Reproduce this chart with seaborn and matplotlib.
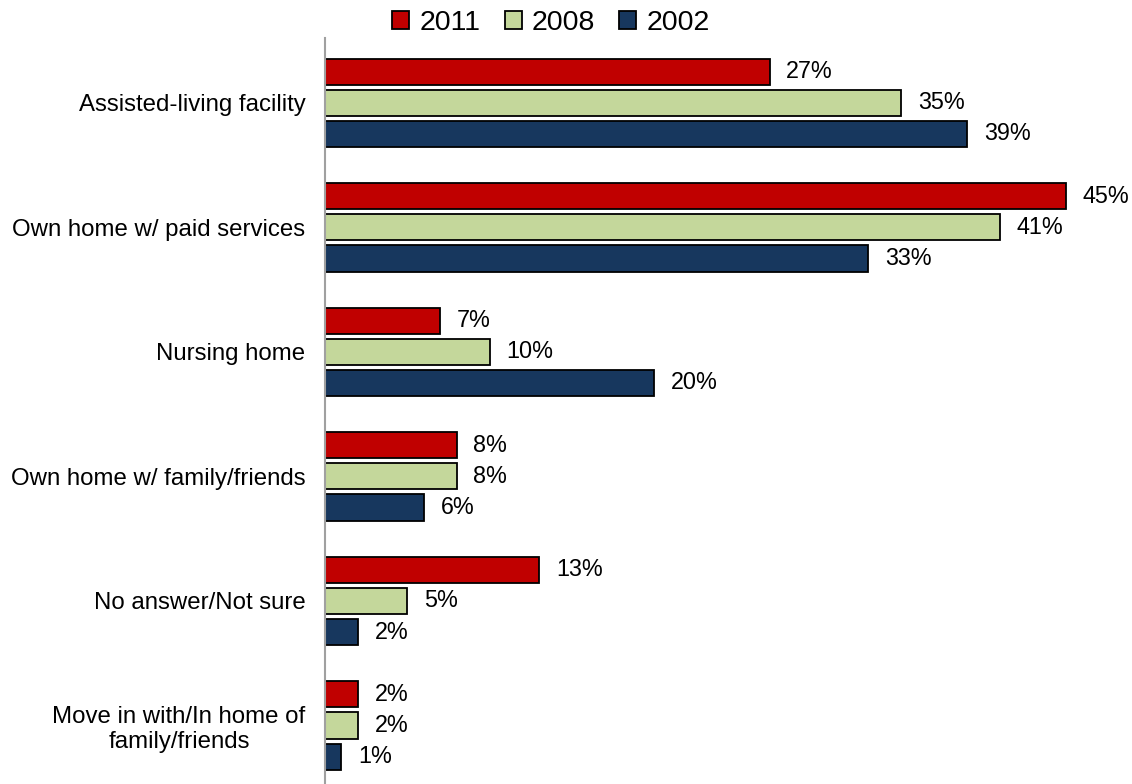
import matplotlib
matplotlib.use("Agg")
import matplotlib.pyplot as plt
import seaborn as sns
import pandas as pd

categories = [
    "Assisted-living facility",
    "Own home w/ paid services",
    "Nursing home",
    "Own home w/ family/friends",
    "No answer/Not sure",
    "Move in with/In home of\nfamily/friends",
]
years = ["2011", "2008", "2002"]
values_2011 = [27, 45, 7, 8, 13, 2]
values_2008 = [35, 41, 10, 8, 5, 2]
values_2002 = [39, 33, 20, 6, 2, 1]
colors = ["#C00000", "#C4D79B", "#17375E"]

rows = []
for year, vals in zip(years, [values_2011, values_2008, values_2002]):
    for cat, v in zip(categories, vals):
        rows.append({"category": cat, "year": year, "value": v})
df = pd.DataFrame(rows)

sns.set_theme(style="white")
plt.rcParams["font.family"] = ["Liberation Sans", "DejaVu Sans"]
plt.rcParams["text.color"] = "black"

fig = plt.figure(figsize=(11.32, 7.84), dpi=100)
ax = fig.add_axes([325 / 1132, 0.0, 1 - 325 / 1132, 1 - 38 / 784])

sns.barplot(
    data=df, y="category", x="value", hue="year",
    order=categories, hue_order=years, palette=colors, saturation=1,
    orient="h", width=0.75, gap=0.16, dodge=True,
    edgecolor="black", linewidth=1.3, errorbar=None, ax=ax,
)

for container in ax.containers:
    ax.bar_label(container, labels=[f"{int(v)}%" for v in container.datavalues],
                 padding=12, fontsize=16.8, color="black")

ax.set_xlim(0, 49)
ax.set_ylim(5.47, -0.52)
ax.set_xlabel("")
ax.set_ylabel("")
ax.set_xticks([])
ax.tick_params(axis="y", length=0, pad=14, labelsize=17.3, labelcolor="black")
for lbl in ax.get_yticklabels():
    lbl.set_multialignment("center")
for side in ["top", "right", "bottom"]:
    ax.spines[side].set_visible(False)
ax.spines["left"].set_color("#A0A0A0")
ax.spines["left"].set_linewidth(1.5)

handles, labels = ax.get_legend_handles_labels()
ax.legend_.remove()
fig.legend(handles, labels, loc="center", bbox_to_anchor=(551 / 1132, 1 - 23 / 784),
           ncol=3, frameon=False, fontsize=20.5, handlelength=0.6, handleheight=0.6,
           handletextpad=0.35, columnspacing=0.85, borderaxespad=0, labelcolor="black")

fig.savefig("out.png", dpi=100)
